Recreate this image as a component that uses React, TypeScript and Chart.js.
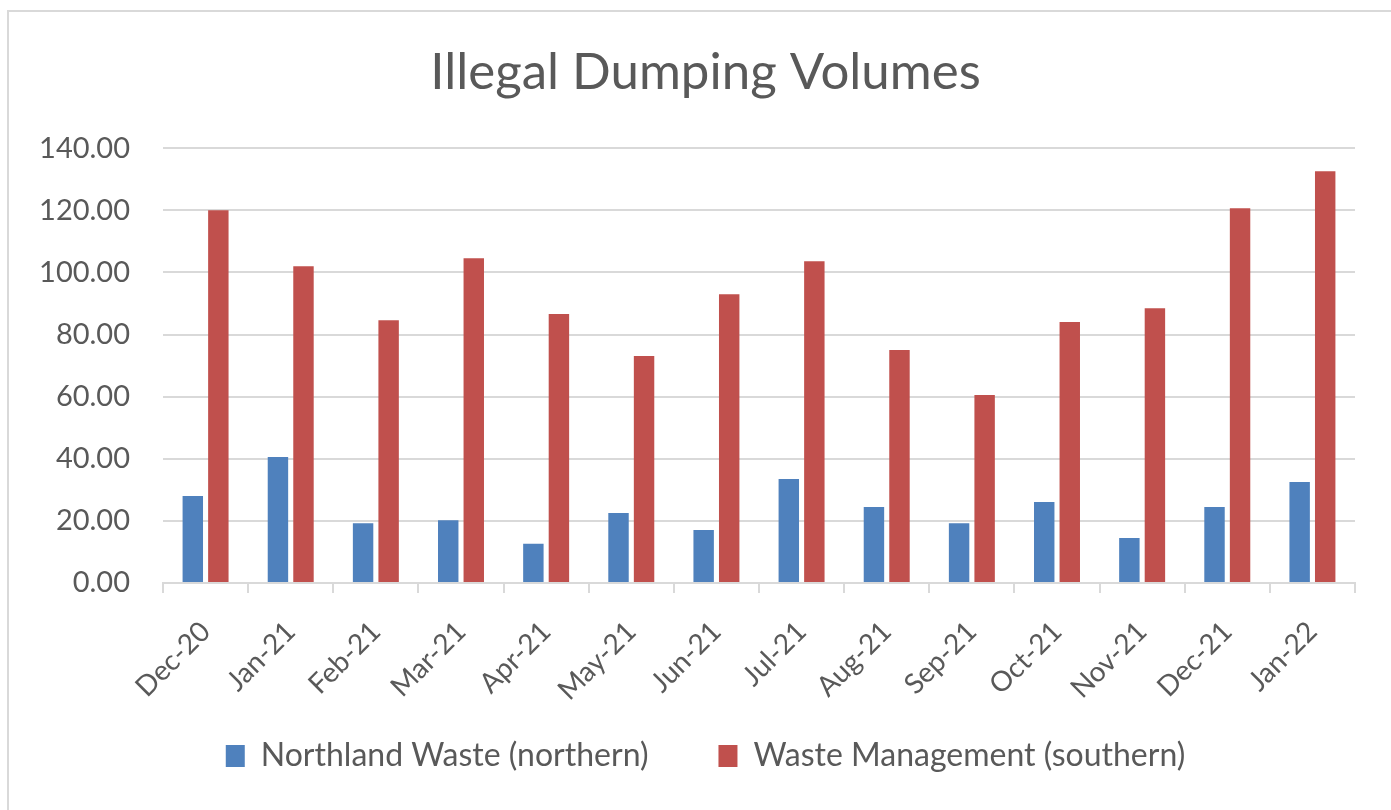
import React, { useEffect, useRef } from "react";
import { Chart, registerables } from "chart.js";

Chart.register(...registerables);

const categories = ["Dec-20", "Jan-21", "Feb-21", "Mar-21", "Apr-21", "May-21", "Jun-21", "Jul-21", "Aug-21", "Sep-21", "Oct-21", "Nov-21", "Dec-21", "Jan-22"];
const northland = [28.0, 40.6, 19.2, 20.2, 12.6, 22.5, 17.1, 33.5, 24.5, 19.2, 26.1, 14.5, 24.5, 32.5];
const wasteMgmt = [120.0, 102.0, 84.6, 104.6, 86.6, 73.1, 93.0, 103.6, 75.0, 60.5, 84.0, 88.5, 120.7, 132.6];
const seriesNames = ["Northland Waste (northern)", "Waste Management (southern)"];
const titleText = "Illegal Dumping Volumes";

const FONT = "Lato, 'Open Sans', sans-serif";
const GRAY = "#595959";
const GRID = "#d9d9d9";

const noClip = (scale: any) => {
  scale._computeLabelArea = () => undefined;
};

export default function App() {
  const ref = useRef<HTMLCanvasElement | null>(null);
  useEffect(() => {
    if (!ref.current) return;
    const chart = new Chart(ref.current, {
      type: "bar",
      data: {
        labels: categories,
        datasets: [
          { label: seriesNames[0], data: northland, backgroundColor: "#4f81bd", barPercentage: 0.8, categoryPercentage: 0.6 },
          { label: seriesNames[1], data: wasteMgmt, backgroundColor: "#c0504d", barPercentage: 0.8, categoryPercentage: 0.6 },
        ],
      },
      options: {
        animation: false,
        responsive: true,
        maintainAspectRatio: false,
        layout: { padding: { left: 56, right: 36, top: 20, bottom: 28 } },
        plugins: {
          title: {
            display: true,
            text: titleText,
            color: GRAY,
            font: { family: FONT, size: 51, weight: "normal" },
            padding: { top: 22, bottom: 45 },
          },
          legend: {
            position: "bottom",
            labels: {
              color: GRAY,
              font: { family: FONT, size: 32 },
              boxWidth: 19,
              boxHeight: 22,
              padding: 70,
            },
          },
          tooltip: { enabled: false },
        },
        scales: {
          x: {
            grid: { drawOnChartArea: false, drawTicks: true, tickLength: 10, color: GRID, lineWidth: 2, offset: true },
            border: { color: GRID, width: 2 },
            ticks: { color: GRAY, font: { family: FONT, size: 28 }, minRotation: 45, maxRotation: 45, padding: 22 },
            afterFit: (scale: any) => { scale.height = 87; noClip(scale); },
          },
          y: {
            min: 0,
            max: 140,
            ticks: {
              stepSize: 20,
              color: GRAY,
              font: { family: FONT, size: 29 },
              padding: 33,
              callback: (v: any) => Number(v).toFixed(2),
            },
            grid: { color: GRID, lineWidth: 2, drawTicks: false },
            border: { display: false },
            afterFit: (scale: any) => { scale.width = 107; noClip(scale); },
          },
        },
      },
    });
    return () => chart.destroy();
  }, []);
  return (
    <div style={{ position: "fixed", left: 0, top: 0, width: 1391, height: 810, background: "#fff" }}>
      <div style={{ position: "absolute", left: 7, top: 10, width: 1400, height: 820, border: "2px solid #d9d9d9", boxSizing: "border-box" }} />
      <div style={{ position: "absolute", left: 0, top: 0, width: 1391, height: 810 }}>
        <canvas ref={ref} />
      </div>
    </div>
  );
}
